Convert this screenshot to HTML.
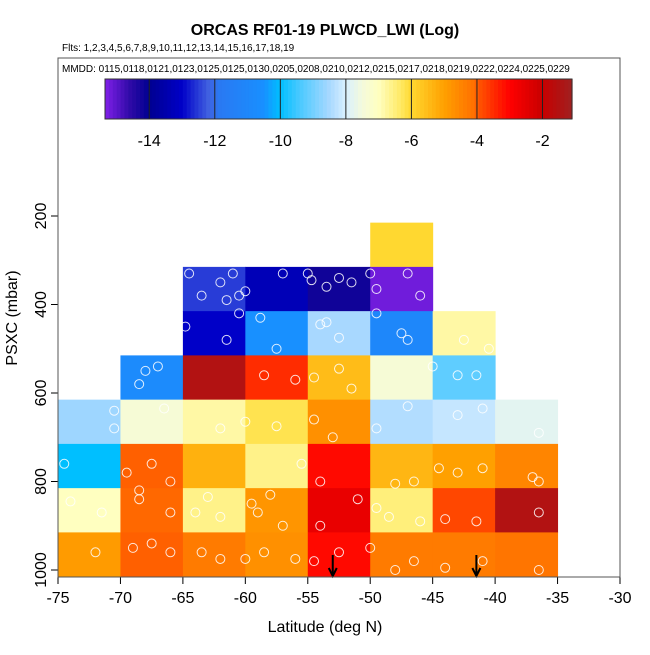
<!DOCTYPE html>
<html><head><meta charset="utf-8"><style>
body{margin:0;background:#fff;}
svg text{font-family:"Liberation Sans",sans-serif;}
</style></head><body>
<svg id="chart" width="650" height="650" xmlns="http://www.w3.org/2000/svg">
<text x="325" y="35" text-anchor="middle" font-size="16" font-weight="bold">ORCAS RF01-19 PLWCD_LWI (Log)</text>
<text x="62" y="51" font-size="10">Flts: 1,2,3,4,5,6,7,8,9,10,11,12,13,14,15,16,17,18,19</text>
<text x="62" y="72" font-size="10">MMDD: 0115,0118,0121,0123,0125,0125,0130,0205,0208,0210,0212,0215,0217,0218,0219,0222,0224,0225,0229</text>
<g id="cbar"></g>
<g id="cells"></g>
<g id="pts"></g>
<g id="axes"></g>
<rect x="58" y="58" width="562" height="519" fill="none" stroke="#555" stroke-width="1"/>
<text x="325" y="632" text-anchor="middle" font-size="16">Latitude (deg N)</text>
<text transform="translate(17,318) rotate(-90)" text-anchor="middle" font-size="16">PSXC (mbar)</text>
</svg>
<script>
const latEdges=[-75,-70,-65,-60,-55,-50,-45,-40,-35];
const presEdges=[215,315,415,515,615,715,815,915,1015];
// values[row][col], rows top (low pressure) to bottom; null = no data
const values=[
[null,null,null,null,null,-6.0,null,null],
[null,null,-12.5,-13.3,-14.2,-15.2,null,null],
[null,null,-13.0,-10.5,-8.5,-11.0,-6.8,null],
[null,-10.8,-1.5,-3.5,-5.5,-7.4,-9.2,null],
[-8.6,-7.4,-6.8,-6.2,-4.7,-8.4,-8.2,-7.8],
[-10.0,-4.0,-5.3,-6.6,-3.1,-5.4,-5.0,-4.5],
[-7.0,-4.05,-6.6,-4.8,-2.6,-6.5,-3.8,-1.5],
[-4.9,-4.0,-4.3,-4.7,-3.1,-4.3,-4.3,-4.2]];
const cbarTicks=[-14,-12,-10,-8,-6,-4,-2];
const ptLat=[-64.5,-62,-61,-60.5,-63.5,-61.5,-60,-57,-55,-54.7,-53.5,-52.5,-51.5,-50,-49.5,-47,-46,-64.8,-60.5,-58.8,-61.5,-57.5,-54,-53.5,-52.5,-49.5,-47.5,-47,-42.5,-40.5,-68,-67,-68.5,-58.5,-56,-54.5,-52.5,-51.5,-45,-43,-41.5,-70.5,-70.5,-66.5,-62,-60,-57.5,-54.5,-53,-49.5,-47,-43,-41,-36.5,-74.5,-69.5,-68.5,-67.5,-66,-63,-59.5,-58,-55.5,-54,-51,-49.5,-48,-46.5,-44.5,-43,-41,-37,-36.5,-74,-71.5,-68.5,-66,-64,-62,-59,-57,-54,-48.5,-46,-44,-41.5,-36.5,-72,-69,-67.5,-66,-63.5,-62,-60,-58.5,-56,-54.5,-52.5,-50,-48,-46.5,-44,-41,-36.5];
const ptPres=[330,350,330,380,380,390,370,330,330,345,360,340,350,330,365,330,380,450,420,430,480,500,445,440,475,420,465,480,480,500,550,540,580,560,570,565,545,590,540,560,560,640,680,635,680,665,675,660,700,680,630,650,635,690,760,780,820,760,800,835,850,830,760,800,840,860,805,800,770,780,770,790,800,845,870,840,870,870,880,870,900,900,880,890,885,890,870,960,950,940,960,960,975,975,960,975,980,960,950,1000,980,995,980,1000,1000];
const arrowLat=[-53,-41.5];

const X=v=>58+(v+75)*562/45;
const Y=p=>216+(p-200)*0.4425;
const NS='http://www.w3.org/2000/svg';
function mk(t,a,parent){const e=document.createElementNS(NS,t);for(const k in a)e.setAttribute(k,a[k]);parent.appendChild(e);return e;}
const stops=[[-15.35,'#8020e8'],[-14.6,'#300aa8'],[-14,'#000090'],[-13,'#0000c8'],[-12.2,'#4060e0'],[-11.9,'#2a78f2'],[-10.5,'#1890ff'],[-10,'#00bfff'],[-9.5,'#40c8ff'],[-8.5,'#a8d8ff'],[-8,'#d8f0ff'],[-7.5,'#f4fadc'],[-7,'#ffffc0'],[-6.3,'#ffe860'],[-6,'#ffd830'],[-5,'#ffa000'],[-4.1,'#ff7000'],[-3.9,'#ff5000'],[-3,'#ff0000'],[-2,'#c80000'],[-1.1,'#a02020']];
function hx(c){return [1,3,5].map(i=>parseInt(c.substr(i,2),16));}
function cmap(v){if(v<=stops[0][0])return stops[0][1];for(let i=1;i<stops.length;i++){if(v<=stops[i][0]){const a=stops[i-1],b=stops[i];const t=(v-a[0])/(b[0]-a[0]);const ca=hx(a[1]),cb=hx(b[1]);return 'rgb('+ca.map((x,j)=>Math.round(x+(cb[j]-x)*t)).join(',')+')';}}return stops[stops.length-1][1];}
// colorbar
const cb=document.getElementById('cbar');
const cbX0=105,cbX1=572,cbV0=-15.35,cbV1=-1.1;
const CX=v=>cbX0+(v-cbV0)*(cbX1-cbX0)/(cbV1-cbV0);
for(let i=0;i<120;i++){const v0=cbV0+(cbV1-cbV0)*i/120,v1=cbV0+(cbV1-cbV0)*(i+1)/120;
const r=mk('rect',{x:CX(v0),y:79,width:CX(v1)-CX(v0)+0.6,height:40,fill:cmap((v0+v1)/2)},cb);

}
const cbf=mk('rect',{x:cbX0,y:79,width:cbX1-cbX0,height:40,fill:'none',stroke:'#333'},cb);


cbarTicks.forEach(t=>{const l=mk('line',{x1:CX(t),x2:CX(t),y1:79,y2:119,stroke:'#222'},cb);


const tx=mk('text',{x:CX(t),y:146,'text-anchor':'middle','font-size':16},cb);tx.textContent=t;

});
// cells
const cg=document.getElementById('cells');
values.forEach((row,ri)=>row.forEach((v,ci)=>{if(v===null)return;
const r=mk('rect',{x:X(latEdges[ci]),y:Y(presEdges[ri]),width:X(latEdges[ci+1])-X(latEdges[ci])+0.5,height:Y(presEdges[ri+1])-Y(presEdges[ri])+0.5,fill:cmap(v)},cg);

}));
// points
const pg=document.getElementById('pts');
ptLat.forEach((la,i)=>{const c=mk('circle',{cx:X(la),cy:Y(ptPres[i]),r:4.5,fill:'none',stroke:'#fff','stroke-width':1,opacity:0.85},pg);

});
// arrows
arrowLat.forEach(la=>{const g=mk('g',{},pg);


mk('line',{x1:X(la),x2:X(la),y1:555,y2:575,stroke:'#000','stroke-width':2},g);
mk('path',{d:`M${X(la)-4},${568} L${X(la)},${576} L${X(la)+4},${568}`,fill:'none',stroke:'#000','stroke-width':2},g);});
// axes
const ax=document.getElementById('axes');
const xa=mk('line',{x1:58,x2:620,y1:577,y2:577,stroke:'#000'},ax);


for(let v=-75;v<=-30;v+=5){const l=mk('line',{x1:X(v),x2:X(v),y1:577,y2:584,stroke:'#000'},ax);


const t=mk('text',{x:X(v),y:603,'text-anchor':'middle','font-size':16},ax);t.textContent=v;

}
const ya=mk('line',{x1:58,x2:58,y1:Y(200),y2:577,stroke:'#000'},ax);


for(let p=200;p<=1000;p+=200){const l=mk('line',{x1:51,x2:58,y1:Y(p),y2:Y(p),stroke:'#000'},ax);


const t=mk('text',{transform:`translate(46,${Y(p)}) rotate(-90)`,'text-anchor':'middle','font-size':16},ax);t.textContent=p;

}
</script>
</body></html>
